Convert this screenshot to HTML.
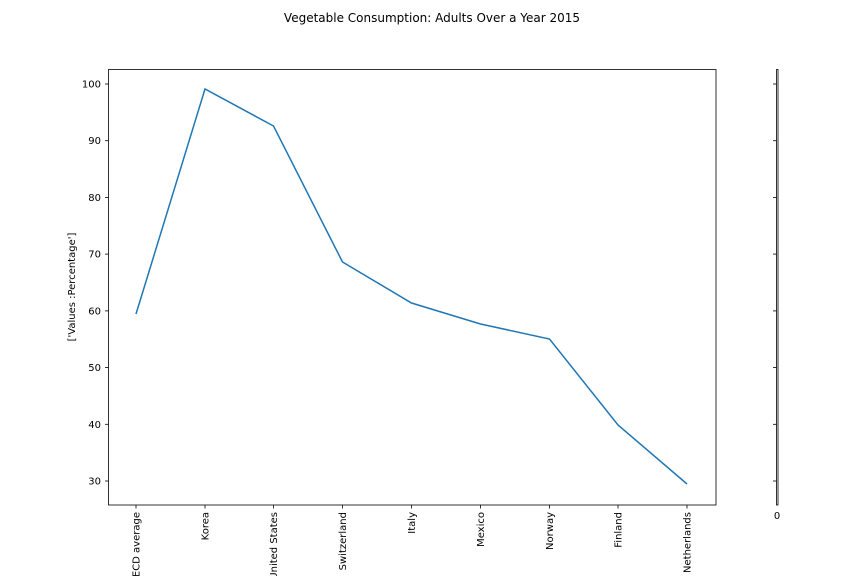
<!DOCTYPE html>
<html><head><meta charset="utf-8"><style>body{margin:0;background:#fff}svg{display:block}</style></head>
<body>
<svg width="864" height="576" viewBox="0 0 864 576" xmlns="http://www.w3.org/2000/svg" font-family="'DejaVu Sans','Liberation Sans',sans-serif" font-size="10" fill="#000">
<rect width="864" height="576" fill="#fff"/>
<text x="432" y="22" text-anchor="middle" font-size="12">Vegetable Consumption: Adults Over a Year 2015</text>
<rect x="108.5" y="69.5" width="607.5" height="435.5" fill="none" stroke="#000" stroke-width="0.8"/>
<g stroke="#000" stroke-width="0.8">
<line x1="105" y1="84" x2="108.5" y2="84"/><line x1="105" y1="140.7" x2="108.5" y2="140.7"/><line x1="105" y1="197.4" x2="108.5" y2="197.4"/><line x1="105" y1="254.1" x2="108.5" y2="254.1"/><line x1="105" y1="310.9" x2="108.5" y2="310.9"/><line x1="105" y1="367.6" x2="108.5" y2="367.6"/><line x1="105" y1="424.3" x2="108.5" y2="424.3"/><line x1="105" y1="481" x2="108.5" y2="481"/>
<line x1="136" y1="505" x2="136" y2="508.5"/><line x1="205" y1="505" x2="205" y2="508.5"/><line x1="273.5" y1="505" x2="273.5" y2="508.5"/><line x1="342.5" y1="505" x2="342.5" y2="508.5"/><line x1="411.5" y1="505" x2="411.5" y2="508.5"/><line x1="480.5" y1="505" x2="480.5" y2="508.5"/><line x1="549.5" y1="505" x2="549.5" y2="508.5"/><line x1="618" y1="505" x2="618" y2="508.5"/><line x1="687" y1="505" x2="687" y2="508.5"/>
</g>
<g text-anchor="end">
<text x="101" y="87.5">100</text><text x="101" y="144.2">90</text><text x="101" y="200.9">80</text><text x="101" y="257.6">70</text><text x="101" y="314.4">60</text><text x="101" y="371.1">50</text><text x="101" y="427.8">40</text><text x="101" y="484.5">30</text>
</g>
<g text-anchor="end">
<text transform="translate(139.5,512) rotate(-90)">OECD average</text>
<text transform="translate(208.5,512) rotate(-90)">Korea</text>
<text transform="translate(277,512) rotate(-90)">United States</text>
<text transform="translate(346,512) rotate(-90)">Switzerland</text>
<text transform="translate(415,512) rotate(-90)">Italy</text>
<text transform="translate(484,512) rotate(-90)">Mexico</text>
<text transform="translate(553,512) rotate(-90)">Norway</text>
<text transform="translate(621.5,512) rotate(-90)">Finland</text>
<text transform="translate(690.5,512) rotate(-90)">Netherlands</text>
</g>
<text transform="translate(75,287) rotate(-90)" text-anchor="middle">['Values :Percentage']</text>
<polyline fill="none" stroke="#1f77b4" stroke-width="1.5" points="136,314 205,89 273.5,126 342.5,262 411.5,303 480.5,324 549.5,339 618,425 687,484"/>
<rect x="776.5" y="69.5" width="1.5" height="435.5" fill="none" stroke="#000" stroke-width="0.8"/>
<g stroke="#000" stroke-width="0.8">
<line x1="773" y1="84" x2="776.5" y2="84"/><line x1="773" y1="140.7" x2="776.5" y2="140.7"/><line x1="773" y1="197.4" x2="776.5" y2="197.4"/><line x1="773" y1="254.1" x2="776.5" y2="254.1"/><line x1="773" y1="310.9" x2="776.5" y2="310.9"/><line x1="773" y1="367.6" x2="776.5" y2="367.6"/><line x1="773" y1="424.3" x2="776.5" y2="424.3"/><line x1="773" y1="481" x2="776.5" y2="481"/>
</g>
<text x="777" y="519" text-anchor="middle">0</text>
</svg>
</body></html>
